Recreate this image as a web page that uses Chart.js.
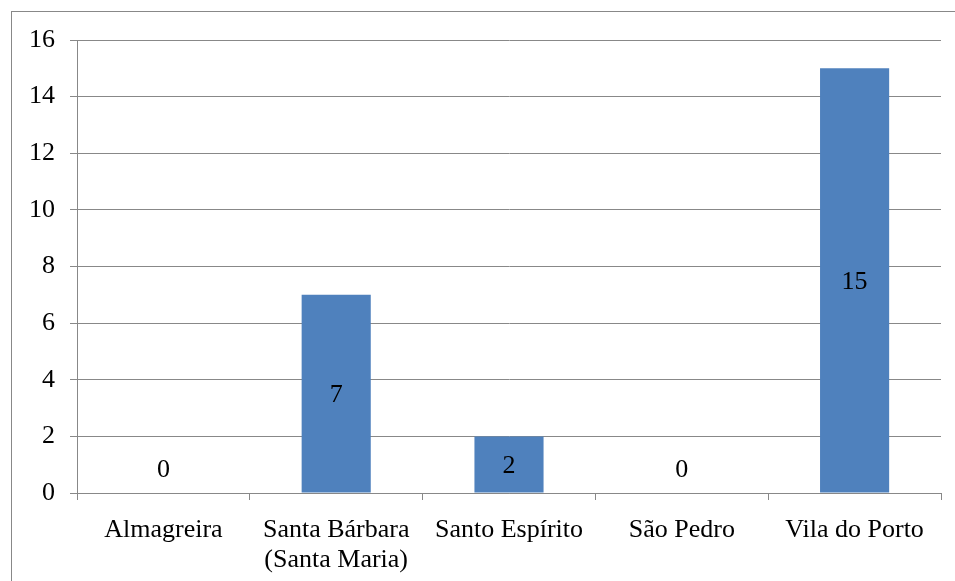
<!DOCTYPE html>
<html>
<head>
<meta charset="utf-8">
<script src="https://cdn.jsdelivr.net/npm/chart.js@4"></script>
<style>
  html, body { margin: 0; padding: 0; background: #fff; }
  #wrap { width: 955px; height: 581px; }
</style>
</head>
<body>
<div id="wrap"><canvas id="freguesiaChart" width="955" height="581"></canvas></div>
<script>
const freguesias = ['Almagreira', ['Santa Bárbara', '(Santa Maria)'], 'Santo Espírito', 'São Pedro', 'Vila do Porto'];
const valores = [0, 7, 2, 0, 15];

const fonte = "'Liberation Serif', 'Times New Roman', serif";
const cinza = '#888888';

// moldura exterior (só topo e esquerda ficam visíveis)
const moldura = {
    id: 'moldura',
    beforeDraw(chart) {
        const c = chart.ctx;
        c.save();
        c.strokeStyle = cinza;
        c.lineWidth = 1;
        c.strokeRect(11.5, 11.5, 3000, 3000);
        c.restore();
    }
};

// valores dentro das barras
const rotulos = {
    id: 'rotulos',
    afterDatasetsDraw(chart) {
        const c = chart.ctx;
        const meta = chart.getDatasetMeta(0);
        c.save();
        c.font = '26px ' + fonte;
        c.fillStyle = '#000';
        c.textAlign = 'center';
        c.textBaseline = 'middle';
        meta.data.forEach(function(bar, i) {
            const v = valores[i];
            let y = (bar.y + bar.base) / 2;
            if (v === 0) y = bar.base - 25;
            c.fillText(String(v), bar.x, y + 2);
        });
        c.restore();
    }
};

document.addEventListener('DOMContentLoaded', function() {
    const ctx = document.getElementById('freguesiaChart').getContext('2d');

    new Chart(ctx, {
        type: 'bar',
        data: {
            labels: freguesias,
            datasets: [{
                data: valores,
                backgroundColor: '#4F81BD',
                borderWidth: 0,
                categoryPercentage: 1,
                barPercentage: 0.4
            }]
        },
        options: {
            responsive: false,
            animation: false,
            layout: { padding: { left: 0, top: 40, right: 14, bottom: 0 } },
            plugins: {
                legend: { display: false },
                tooltip: { enabled: false }
            },
            scales: {
                x: {
                    afterFit(scale) { scale.height = 88; },
                    grid: {
                        offset: true,
                        drawOnChartArea: false,
                        drawTicks: true,
                        tickLength: 7,
                        color: cinza
                    },
                    border: { color: cinza },
                    ticks: {
                        color: '#000',
                        padding: 15,
                        maxRotation: 0,
                        autoSkip: false,
                        font: { family: fonte, size: 26, lineHeight: 1.15 }
                    }
                },
                y: {
                    min: 0,
                    max: 16,
                    afterFit(scale) { scale.width = 77; },
                    grid: {
                        color: cinza,
                        tickLength: 7
                    },
                    border: { color: cinza },
                    ticks: {
                        stepSize: 2,
                        color: '#000',
                        padding: 15,
                        font: { family: fonte, size: 26 }
                    }
                }
            }
        },
        plugins: [moldura, rotulos]
    });
});
</script>
</body>
</html>
